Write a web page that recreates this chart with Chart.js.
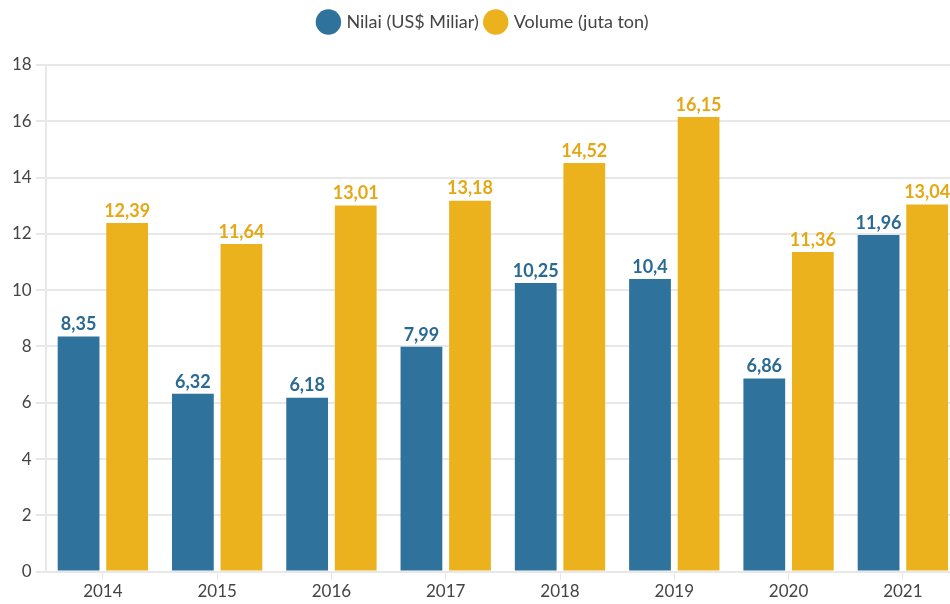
<!DOCTYPE html>
<html>
<head>
<meta charset="utf-8">
<script src="https://cdn.jsdelivr.net/npm/chart.js@4"></script>
<style>
  html, body { margin: 0; padding: 0; background: #fff; overflow: hidden; }
  #wrap { position: relative; width: 968px; height: 604px; }
</style>
</head>
<body>
<div id="wrap"><canvas id="myChart"></canvas></div>
<script>
// data
const years = ['2014', '2015', '2016', '2017', '2018', '2019', '2020', '2021'];
const nilai = [8.35, 6.32, 6.18, 7.99, 10.25, 10.4, 6.86, 11.96];
const volume = [12.39, 11.64, 13.01, 13.18, 14.52, 16.15, 11.36, 13.04];
const seriesNames = ['Nilai (US$ Miliar)', 'Volume (juta ton)'];

const blue = '#2f729b';
const yellow = '#ecb21e';
const FONT = 'Lato, "Open Sans", sans-serif';

// small plugin to write the value over each bar (comma decimals)
const barLabels = {
  id: 'barLabels',
  afterDatasetsDraw(chart) {
    const ctx = chart.ctx;
    chart.data.datasets.forEach((ds, i) => {
      const meta = chart.getDatasetMeta(i);
      meta.data.forEach((bar, j) => {
        const txt = String(ds.data[j]).replace('.', ',');
        ctx.save();
        ctx.font = 'bold 18px ' + FONT;
        ctx.fillStyle = ds.labelColor;
        ctx.textAlign = 'center';
        ctx.textBaseline = 'bottom';
        ctx.fillText(txt, bar.x, bar.y - 3);
        ctx.restore();
      });
    });
  }
};

// extra room under the legend
const legendGap = {
  id: 'legendGap',
  beforeInit(chart) {
    const fit = chart.legend.fit;
    chart.legend.fit = function () {
      fit.bind(chart.legend)();
      this.height += 24;
    };
  }
};

const chart = new Chart(document.querySelector('#myChart'), {
  type: 'bar',
  data: {
    labels: years,
    datasets: [{
      label: seriesNames[0],
      data: nilai,
      backgroundColor: blue,
      labelColor: '#2a6a92',
      categoryPercentage: 0.85,
      barPercentage: 0.86
    }, {
      label: seriesNames[1],
      data: volume,
      backgroundColor: yellow,
      labelColor: '#e5a815',
      categoryPercentage: 0.85,
      barPercentage: 0.86
    }]
  },
  options: {
    responsive: true,
    maintainAspectRatio: false,
    animation: false,
    layout: { padding: { left: 8, right: 8, top: 5, bottom: 0 } },
    plugins: {
      legend: {
        position: 'top',
        labels: {
          usePointStyle: true,
          pointStyle: 'circle',
          boxWidth: 19,
          boxHeight: 19,
          padding: 8,
          color: '#444',
          font: { family: FONT, size: 18 }
        }
      },
      tooltip: { enabled: false }
    },
    scales: {
      x: {
        grid: { offset: false, drawOnChartArea: false, drawTicks: true, tickLength: 8, color: '#e6e6e6' },
        border: { display: false },
        ticks: { color: '#444', font: { family: FONT, size: 17 }, padding: 2 }
      },
      y: {
        min: 0,
        max: 18,
        ticks: { stepSize: 2, color: '#444', font: { family: FONT, size: 17 }, padding: 4 },
        grid: { color: '#e8e8e8', lineWidth: 2, tickLength: 10 },
        border: { display: true, color: '#e8e8e8', width: 2 }
      }
    }
  },
  plugins: [barLabels, legendGap]
});
</script>
</body>
</html>
